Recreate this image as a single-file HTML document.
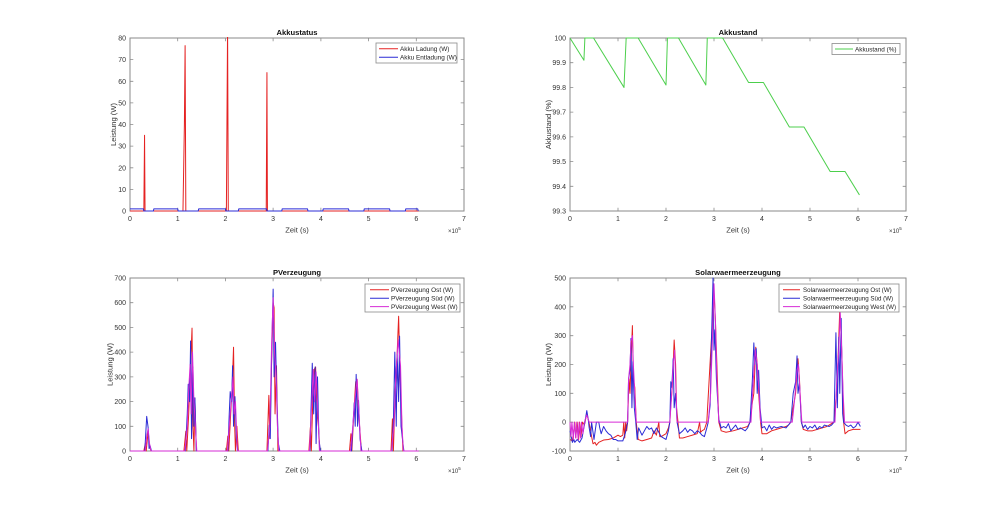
<!DOCTYPE html>
<html>
<head>
<meta charset="utf-8">
<style>
html,body{margin:0;padding:0;background:#fff;}
svg{display:block;}
text{font-family:"Liberation Sans",Arial,sans-serif;fill:#333;}
.tk{font-size:7px;}
.lb{font-size:7.6px;}
.tt{font-size:7.6px;font-weight:bold;fill:#111;}
.lg{font-size:6.4px;fill:#222;}
.ax{fill:none;stroke:#8a8a8a;stroke-width:1;}
.tick{fill:none;stroke:#8a8a8a;stroke-width:0.8;}
.s{fill:none;stroke-width:1;vector-effect:non-scaling-stroke;stroke-linejoin:round;}
</style>
</head>
<body>
<svg width="1000" height="507" viewBox="0 0 1000 507" xmlns="http://www.w3.org/2000/svg">
<rect width="1000" height="507" fill="#fff"/>
<defs>
<clipPath id="cTL"><rect x="129" y="37" width="336" height="175"/></clipPath>
<clipPath id="cTR"><rect x="569" y="37" width="338" height="175"/></clipPath>
<clipPath id="cBL"><rect x="129" y="277" width="336" height="175"/></clipPath>
<clipPath id="cBR"><rect x="569" y="277" width="338" height="175"/></clipPath>
</defs>

<!-- ================= TOP LEFT: Akkustatus ================= -->
<rect class="ax" x="130" y="38" width="334" height="173"/>
<path class="tick" d="M177.7 211v-3.3M225.4 211v-3.3M273.1 211v-3.3M320.9 211v-3.3M368.6 211v-3.3M416.3 211v-3.3M177.7 38v3.3M225.4 38v3.3M273.1 38v3.3M320.9 38v3.3M368.6 38v3.3M416.3 38v3.3M130 189.4h3.3M130 167.8h3.3M130 146.1h3.3M130 124.5h3.3M130 102.9h3.3M130 81.3h3.3M130 59.6h3.3M464 189.4h-3.3M464 167.8h-3.3M464 146.1h-3.3M464 124.5h-3.3M464 102.9h-3.3M464 81.3h-3.3M464 59.6h-3.3"/>
<g class="tk" text-anchor="middle">
<text x="130" y="221">0</text><text x="177.7" y="221">1</text><text x="225.4" y="221">2</text><text x="273.1" y="221">3</text><text x="320.9" y="221">4</text><text x="368.6" y="221">5</text><text x="416.3" y="221">6</text><text x="464" y="221">7</text>
</g>
<g class="tk" text-anchor="end">
<text x="126" y="213.5">0</text><text x="126" y="191.9">10</text><text x="126" y="170.3">20</text><text x="126" y="148.6">30</text><text x="126" y="127">40</text><text x="126" y="105.4">50</text><text x="126" y="83.8">60</text><text x="126" y="62.1">70</text><text x="126" y="40.5">80</text>
</g>
<text class="tt" x="297" y="35" text-anchor="middle">Akkustatus</text>
<text class="lb" x="297" y="232.5" text-anchor="middle">Zeit (s)</text>
<text class="lb" transform="translate(116,124.5) rotate(-90)" text-anchor="middle">Leistung (W)</text>
<text class="tk" x="448" y="233" style="font-size:6px">×10<tspan dy="-3" style="font-size:4.5px">5</tspan></text>
<g clip-path="url(#cTL)">
<g transform="translate(130 211) scale(47.714 -2.1625)">
<polyline class="s" stroke="#e52222" points="0,0 0.29,0 0.305,35 0.315,0 1.11,0 1.14,40 1.155,76.5 1.17,0 2.02,0 2.045,85 2.06,0 2.855,0 2.87,64 2.88,0 6.05,0"/>
<polyline class="s" stroke="#2b2bd6" points="0,1 0.28,1 0.29,0 0.49,0 0.5,1 1.0,1 1.01,0 1.43,0 1.44,1 2.0,1 2.01,0 2.27,0 2.28,1 2.86,1 2.87,0 3.18,0 3.19,1 3.72,1 3.73,0 4.04,0 4.05,1 4.58,1 4.59,0 4.9,0 4.91,1 5.44,1 5.45,0 5.77,0 5.78,1 6.03,1 6.04,0"/>
</g>
</g>
<rect x="376" y="43" width="81" height="20" fill="#fff" stroke="#8a8a8a" stroke-width="0.8"/>
<line x1="379" y1="48.8" x2="398" y2="48.8" stroke="#e52222" stroke-width="1"/>
<line x1="379" y1="57.2" x2="398" y2="57.2" stroke="#2b2bd6" stroke-width="1"/>
<text class="lg" x="400" y="51.1">Akku Ladung (W)</text>
<text class="lg" x="400" y="59.5">Akku Entladung (W)</text>

<!-- ================= TOP RIGHT: Akkustand ================= -->
<rect class="ax" x="570" y="38" width="336" height="173"/>
<path class="tick" d="M618 211v-3.3M666 211v-3.3M714 211v-3.3M762 211v-3.3M810 211v-3.3M858 211v-3.3M618 38v3.3M666 38v3.3M714 38v3.3M762 38v3.3M810 38v3.3M858 38v3.3M570 186.3h3.3M570 161.6h3.3M570 136.9h3.3M570 112.1h3.3M570 87.4h3.3M570 62.7h3.3M906 186.3h-3.3M906 161.6h-3.3M906 136.9h-3.3M906 112.1h-3.3M906 87.4h-3.3M906 62.7h-3.3"/>
<g class="tk" text-anchor="middle">
<text x="570" y="221">0</text><text x="618" y="221">1</text><text x="666" y="221">2</text><text x="714" y="221">3</text><text x="762" y="221">4</text><text x="810" y="221">5</text><text x="858" y="221">6</text><text x="906" y="221">7</text>
</g>
<g class="tk" text-anchor="end">
<text x="566" y="213.5">99.3</text><text x="566" y="188.8">99.4</text><text x="566" y="164.1">99.5</text><text x="566" y="139.4">99.6</text><text x="566" y="114.6">99.7</text><text x="566" y="89.9">99.8</text><text x="566" y="65.2">99.9</text><text x="566" y="40.5">100</text>
</g>
<text class="tt" x="738" y="35" text-anchor="middle">Akkustand</text>
<text class="lb" x="738" y="232.5" text-anchor="middle">Zeit (s)</text>
<text class="lb" transform="translate(551,124.5) rotate(-90)" text-anchor="middle">Akkustand (%)</text>
<text class="tk" x="889" y="233" style="font-size:6px">×10<tspan dy="-3" style="font-size:4.5px">5</tspan></text>
<g clip-path="url(#cTR)">
<g transform="translate(570 211) scale(48 -247.14) translate(0 -99.3)">
<polyline class="s" stroke="#4ccf4c" points="0,100 0.29,99.91 0.31,100 0.49,100 1.125,99.8 1.17,100 1.42,100 2.0,99.81 2.03,100 2.26,100 2.83,99.81 2.86,100 3.18,100 3.72,99.82 4.03,99.82 4.57,99.64 4.875,99.64 5.42,99.46 5.73,99.46 6.03,99.365"/>
</g>
</g>
<rect x="832" y="43.5" width="68" height="11" fill="#fff" stroke="#8a8a8a" stroke-width="0.8"/>
<line x1="835" y1="49" x2="853" y2="49" stroke="#4ccf4c" stroke-width="1"/>
<text class="lg" x="855" y="51.3">Akkustand (%)</text>

<!-- ================= BOTTOM LEFT: PVerzeugung ================= -->
<rect class="ax" x="130" y="278" width="334" height="173"/>
<path class="tick" d="M177.7 451v-3.3M225.4 451v-3.3M273.1 451v-3.3M320.9 451v-3.3M368.6 451v-3.3M416.3 451v-3.3M177.7 278v3.3M225.4 278v3.3M273.1 278v3.3M320.9 278v3.3M368.6 278v3.3M416.3 278v3.3M130 426.3h3.3M130 401.6h3.3M130 376.9h3.3M130 352.1h3.3M130 327.4h3.3M130 302.7h3.3M464 426.3h-3.3M464 401.6h-3.3M464 376.9h-3.3M464 352.1h-3.3M464 327.4h-3.3M464 302.7h-3.3"/>
<g class="tk" text-anchor="middle">
<text x="130" y="461">0</text><text x="177.7" y="461">1</text><text x="225.4" y="461">2</text><text x="273.1" y="461">3</text><text x="320.9" y="461">4</text><text x="368.6" y="461">5</text><text x="416.3" y="461">6</text><text x="464" y="461">7</text>
</g>
<g class="tk" text-anchor="end">
<text x="126" y="453.5">0</text><text x="126" y="428.8">100</text><text x="126" y="404.1">200</text><text x="126" y="379.4">300</text><text x="126" y="354.6">400</text><text x="126" y="329.9">500</text><text x="126" y="305.2">600</text><text x="126" y="280.5">700</text>
</g>
<text class="tt" x="297" y="275" text-anchor="middle">PVerzeugung</text>
<text class="lb" x="297" y="472.5" text-anchor="middle">Zeit (s)</text>
<text class="lb" transform="translate(112.5,364.5) rotate(-90)" text-anchor="middle">Leistung (W)</text>
<text class="tk" x="448" y="473" style="font-size:6px">×10<tspan dy="-3" style="font-size:4.5px">5</tspan></text>
<g clip-path="url(#cBL)">
<g transform="translate(130 451) scale(47.714 -0.24714)">
<polyline class="s" stroke="#e52222" points="0,0 0.29,0 0.32,30 0.34,0 0.36,40 0.38,80 0.41,20 0.44,0 1.13,0 1.17,80 1.19,0 1.23,150 1.26,300 1.3,497 1.32,100 1.34,0 1.36,215 1.39,0 2.02,0 2.05,60 2.07,0 2.11,150 2.14,250 2.17,420 2.19,130 2.21,0 2.24,100 2.27,0 2.87,0 2.91,225 2.93,50 2.96,300 3.0,600 3.02,580 3.04,150 3.07,345 3.1,0 3.75,0 3.78,95 3.8,0 3.83,200 3.86,330 3.89,340 3.92,150 3.95,100 3.98,0 4.6,0 4.63,70 4.65,0 4.69,150 4.73,280 4.76,290 4.79,155 4.82,80 4.85,0 5.47,0 5.5,130 5.52,0 5.56,250 5.6,400 5.63,545 5.66,300 5.69,150 5.72,0 6.05,0"/>
<polyline class="s" stroke="#2b2bd6" points="0,0 0.31,0 0.35,140 0.38,95 0.4,10 0.42,22 0.45,0 1.16,0 1.2,150 1.22,270 1.25,200 1.27,445 1.29,50 1.32,340 1.34,100 1.36,215 1.39,0 2.05,0 2.08,150 2.1,240 2.13,200 2.15,345 2.17,100 2.2,220 2.23,50 2.26,0 2.89,0 2.92,105 2.94,50 2.97,400 3.0,655 3.02,300 3.05,440 3.08,200 3.11,30 3.14,0 3.77,0 3.82,355 3.85,150 3.88,340 3.9,30 3.93,300 3.96,50 3.99,0 4.64,0 4.7,195 4.72,100 4.74,310 4.77,100 4.79,205 4.82,50 4.86,0 5.49,0 5.52,120 5.55,400 5.58,100 5.6,390 5.63,200 5.65,465 5.68,100 5.71,50 5.74,0 6.05,0"/>
<polyline class="s" stroke="#d62bd6" points="0,0 0.32,0 0.35,60 0.38,90 0.41,30 0.44,0 1.15,0 1.2,100 1.23,250 1.26,350 1.28,150 1.31,400 1.34,200 1.37,100 1.4,0 2.04,0 2.08,100 2.12,200 2.16,300 2.18,150 2.21,200 2.25,0 2.88,0 2.93,100 2.97,450 3.0,620 3.03,400 3.06,300 3.09,100 3.12,0 3.76,0 3.8,150 3.84,330 3.87,200 3.9,320 3.94,150 3.97,0 4.62,0 4.67,100 4.71,200 4.76,290 4.8,150 4.84,0 5.48,0 5.53,100 5.57,300 5.62,450 5.67,345 5.7,100 5.73,0 6.05,0"/>
</g>
</g>
<rect x="365" y="284" width="95" height="28" fill="#fff" stroke="#8a8a8a" stroke-width="0.8"/>
<line x1="370" y1="289.8" x2="389" y2="289.8" stroke="#e52222" stroke-width="1"/>
<line x1="370" y1="298.2" x2="389" y2="298.2" stroke="#2b2bd6" stroke-width="1"/>
<line x1="370" y1="306.6" x2="389" y2="306.6" stroke="#d62bd6" stroke-width="1"/>
<text class="lg" x="391" y="292.1">PVerzeugung Ost (W)</text>
<text class="lg" x="391" y="300.5">PVerzeugung Süd (W)</text>
<text class="lg" x="391" y="308.9">PVerzeugung West (W)</text>

<!-- ================= BOTTOM RIGHT: Solarwaermeerzeugung ================= -->
<rect class="ax" x="570" y="278" width="336" height="173"/>
<path class="tick" d="M618 451v-3.3M666 451v-3.3M714 451v-3.3M762 451v-3.3M810 451v-3.3M858 451v-3.3M618 278v3.3M666 278v3.3M714 278v3.3M762 278v3.3M810 278v3.3M858 278v3.3M570 422.2h3.3M570 393.3h3.3M570 364.5h3.3M570 335.7h3.3M570 306.8h3.3M906 422.2h-3.3M906 393.3h-3.3M906 364.5h-3.3M906 335.7h-3.3M906 306.8h-3.3"/>
<g class="tk" text-anchor="middle">
<text x="570" y="461">0</text><text x="618" y="461">1</text><text x="666" y="461">2</text><text x="714" y="461">3</text><text x="762" y="461">4</text><text x="810" y="461">5</text><text x="858" y="461">6</text><text x="906" y="461">7</text>
</g>
<g class="tk" text-anchor="end">
<text x="566" y="453.5">-100</text><text x="566" y="424.7">0</text><text x="566" y="395.8">100</text><text x="566" y="367">200</text><text x="566" y="338.2">300</text><text x="566" y="309.3">400</text><text x="566" y="280.5">500</text>
</g>
<text class="tt" x="738" y="275" text-anchor="middle">Solarwaermeerzeugung</text>
<text class="lb" x="738" y="472.5" text-anchor="middle">Zeit (s)</text>
<text class="lb" transform="translate(551,364.5) rotate(-90)" text-anchor="middle">Leistung (W)</text>
<text class="tk" x="889" y="473" style="font-size:6px">×10<tspan dy="-3" style="font-size:4.5px">5</tspan></text>
<g clip-path="url(#cBR)">
<g transform="translate(570 451) scale(48 -0.28833) translate(0 100)">
<polyline class="s" stroke="#e52222" points="0,-60 0.05,-65 0.1,0 0.12,-55 0.15,0 0.18,-60 0.2,0 0.23,-50 0.26,0 0.3,-10 0.35,30 0.38,10 0.42,-20 0.45,-50 0.48,-75 0.52,-70 0.55,-80 0.6,-70 0.7,-62 0.8,-60 0.9,-55 1.0,-45 1.05,-50 1.1,-45 1.12,0 1.14,-55 1.16,0 1.18,-30 1.2,0 1.23,150 1.25,100 1.28,250 1.3,335 1.32,150 1.35,120 1.38,0 1.42,-60 1.5,-65 1.6,-60 1.7,-55 1.75,-30 1.8,-45 1.85,0 1.87,-50 1.9,-50 2.0,-40 2.05,-20 2.08,0 2.1,60 2.13,120 2.17,285 2.2,200 2.22,50 2.25,0 2.28,-55 2.35,-55 2.45,-50 2.55,-45 2.65,-40 2.7,0 2.72,-35 2.75,-30 2.8,-25 2.85,0 2.9,150 2.95,300 3.0,450 3.03,350 3.06,200 3.1,0 3.15,-30 3.25,-35 3.4,-30 3.5,-25 3.6,-20 3.7,-15 3.75,0 3.8,70 3.83,100 3.87,260 3.9,200 3.93,100 3.97,0 4.0,-40 4.1,-40 4.2,-30 4.3,-25 4.4,-20 4.5,-15 4.55,-10 4.6,0 4.65,50 4.7,100 4.75,220 4.78,150 4.82,0 4.86,-25 4.95,-30 5.05,-30 5.15,-25 5.25,-20 5.35,-15 5.45,-5 5.5,0 5.55,100 5.58,200 5.62,390 5.65,300 5.67,200 5.7,0 5.73,-40 5.8,-30 5.9,-25 6.0,-25 6.05,-25"/>
<polyline class="s" stroke="#2b2bd6" points="0,-30 0.05,-70 0.08,-60 0.1,-70 0.15,-60 0.2,-70 0.25,-55 0.3,-10 0.35,40 0.38,10 0.4,-20 0.43,-50 0.45,0 0.5,-60 0.55,0 0.6,0 0.62,-20 0.65,-40 0.7,-15 0.75,-30 0.8,-40 0.85,-45 0.9,-60 0.95,-60 1.0,-65 1.05,-65 1.1,-65 1.15,-40 1.2,0 1.22,150 1.25,180 1.27,290 1.29,50 1.31,210 1.34,50 1.37,0 1.4,-60 1.43,-20 1.5,-45 1.55,-30 1.6,-15 1.65,-25 1.7,-20 1.75,-40 1.8,-20 1.85,-35 1.9,-50 1.95,-55 2.0,-60 2.05,-30 2.08,0 2.1,140 2.12,120 2.15,220 2.17,50 2.2,100 2.23,0 2.28,-40 2.35,-30 2.4,-20 2.45,-35 2.5,-25 2.55,-30 2.6,-40 2.65,-30 2.7,-35 2.75,-45 2.8,-50 2.85,-20 2.88,0 2.92,60 2.95,300 2.98,500 3.0,250 3.02,320 3.05,150 3.1,10 3.15,-20 3.2,-15 3.25,-20 3.3,-5 3.35,-30 3.4,-20 3.45,-10 3.5,-25 3.55,-20 3.6,-25 3.65,-30 3.7,-20 3.75,0 3.8,150 3.83,275 3.85,200 3.88,255 3.9,100 3.93,180 3.96,50 4.0,-20 4.05,-15 4.1,-30 4.15,-10 4.2,-25 4.25,-15 4.3,-20 4.4,-15 4.5,-20 4.55,-10 4.6,0 4.65,100 4.7,140 4.73,230 4.75,100 4.78,135 4.82,0 4.86,-20 4.9,-10 4.95,-25 5.0,-15 5.05,-20 5.1,-10 5.15,-25 5.2,-15 5.25,-20 5.3,-10 5.4,-15 5.45,-10 5.5,0 5.54,310 5.57,50 5.6,295 5.62,100 5.65,360 5.68,30 5.7,0 5.75,-10 5.8,-15 5.85,-10 5.9,-20 5.95,-15 6.0,0 6.05,-15"/>
<polyline class="s" stroke="#d62bd6" points="0,0 0.02,-50 0.04,0 0.07,-60 0.09,0 0.12,-55 0.14,0 0.17,-60 0.19,0 0.22,-55 0.24,0 0.27,-40 0.3,0 0.35,25 0.4,0 1.2,0 1.22,150 1.25,200 1.27,280 1.3,300 1.32,200 1.35,100 1.38,0 2.08,0 2.12,100 2.15,200 2.18,250 2.21,100 2.23,0 2.88,0 2.93,100 2.97,300 3.0,480 3.03,350 3.06,150 3.1,0 3.77,0 3.82,150 3.86,250 3.9,200 3.94,100 3.97,0 4.63,0 4.68,80 4.73,180 4.76,200 4.8,80 4.83,0 5.52,0 5.56,150 5.6,250 5.63,380 5.66,250 5.69,100 5.72,0 6.05,0"/>
</g>
</g>
<rect x="779" y="284" width="120" height="28" fill="#fff" stroke="#8a8a8a" stroke-width="0.8"/>
<line x1="783" y1="289.8" x2="800" y2="289.8" stroke="#e52222" stroke-width="1"/>
<line x1="783" y1="298.2" x2="800" y2="298.2" stroke="#2b2bd6" stroke-width="1"/>
<line x1="783" y1="306.6" x2="800" y2="306.6" stroke="#d62bd6" stroke-width="1"/>
<text class="lg" x="803" y="292.1" style="font-size:6.2px">Solarwaermeerzeugung Ost (W)</text>
<text class="lg" x="803" y="300.5" style="font-size:6.2px">Solarwaermeerzeugung Süd (W)</text>
<text class="lg" x="803" y="308.9" style="font-size:6.2px">Solarwaermeerzeugung West (W)</text>
</svg>
</body>
</html>
